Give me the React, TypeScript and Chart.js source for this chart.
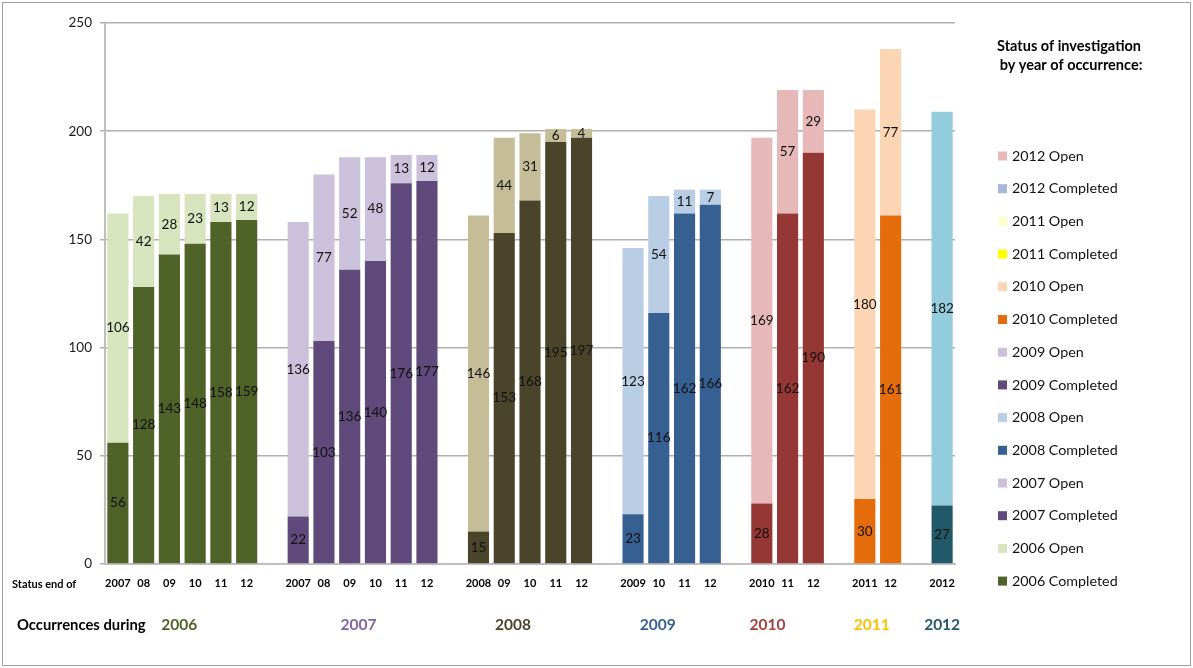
import { useEffect, useRef } from 'react';
import { Chart, registerables } from 'chart.js';

Chart.register(...registerables);

const FONT = 'Lato, "Liberation Sans", sans-serif';

// Occurrence years (groups)
const occurrenceYears = ['2006', '2007', '2008', '2009', '2010', '2011', '2012'];

// "Status end of" tick labels per group
const statusEnd2006 = ['2007', '08', '09', '10', '11', '12'];
const statusEnd2007 = ['2007', '08', '09', '10', '11', '12'];
const statusEnd2008 = ['2008', '09', '10', '11', '12'];
const statusEnd2009 = ['2009', '10', '11', '12'];
const statusEnd2010 = ['2010', '11', '12'];
const statusEnd2011 = ['2011', '12'];
const statusEnd2012 = ['2012'];

// Completed investigations
const completed2006 = [56, 128, 143, 148, 158, 159];
const completed2007 = [22, 103, 136, 140, 176, 177];
const completed2008 = [15, 153, 168, 195, 197];
const completed2009 = [23, 116, 162, 166];
const completed2010 = [28, 162, 190];
const completed2011 = [30, 161];
const completed2012 = [27];

// Open investigations
const open2006 = [106, 42, 28, 23, 13, 12];
const open2007 = [136, 77, 52, 48, 13, 12];
const open2008 = [146, 44, 31, 6, 4];
const open2009 = [123, 54, 11, 7];
const open2010 = [169, 57, 29];
const open2011 = [180, 77];
const open2012 = [182];

// Bar colours per group
const completedColors = ['#4F6228', '#604A7B', '#4A452A', '#376092', '#953735', '#E46C0A', '#215968'];
const openColors = ['#D7E4BD', '#CCC1DA', '#C4BD97', '#B9CDE5', '#E6B9B8', '#FCD5B5', '#93CDDD'];
const yearLabelColors = ['#4F6228', '#8064A2', '#4A452A', '#376092', '#A5403D', '#FFC000', '#215968'];

// Legend (as in the original workbook)
const legendLabels = [
  '2012 Open', '2012 Completed', '2011 Open', '2011 Completed', '2010 Open', '2010 Completed',
  '2009 Open', '2009 Completed', '2008 Open', '2008 Completed', '2007 Open', '2007 Completed',
  '2006 Open', '2006 Completed',
];
const legendColors = [
  '#E6B9B8', '#A7B9D8', '#FFFFCC', '#FFFF00', '#FCD5B5', '#E46C0A',
  '#CCC1DA', '#604A7B', '#B9CDE5', '#376092', '#CCC1DA', '#604A7B',
  '#D7E4BD', '#4F6228',
];

const yTicks = [0, 50, 100, 150, 200, 250];

const statusGroups = [statusEnd2006, statusEnd2007, statusEnd2008, statusEnd2009, statusEnd2010, statusEnd2011, statusEnd2012];
const completedGroups = [completed2006, completed2007, completed2008, completed2009, completed2010, completed2011, completed2012];
const openGroups = [open2006, open2007, open2008, open2009, open2010, open2011, open2012];

function buildData() {
  const labels: string[] = [];
  const completed: (number | null)[] = [];
  const open: (number | null)[] = [];
  const cCol: string[] = [];
  const oCol: string[] = [];
  const groupRanges: [number, number][] = [];
  statusGroups.forEach((st, g) => {
    const start = labels.length;
    st.forEach((s, i) => {
      labels.push(s);
      completed.push(completedGroups[g][i]);
      open.push(openGroups[g][i]);
      cCol.push(completedColors[g]);
      oCol.push(openColors[g]);
    });
    groupRanges.push([start, labels.length - 1]);
    if (g < statusGroups.length - 1) {
      labels.push('');
      completed.push(null);
      open.push(null);
      cCol.push('rgba(0,0,0,0)');
      oCol.push('rgba(0,0,0,0)');
    }
  });
  return { labels, completed, open, cCol, oCol, groupRanges };
}

export default function App() {
  const ref = useRef<HTMLCanvasElement | null>(null);

  useEffect(() => {
    if (!ref.current) return;
    const d = buildData();
    const yearShift = [-3, -4, -17, -14, -20, -6, 0];

    const labelPlugin = {
      id: 'segLabels',
      afterDatasetsDraw(chart: any) {
        const ctx = chart.ctx;
        ctx.save();
        ctx.font = `13.5px ${FONT}`;
        ctx.fillStyle = '#111';
        ctx.textAlign = 'center';
        ctx.textBaseline = 'middle';
        chart.data.datasets.forEach((ds: any, di: number) => {
          const meta = chart.getDatasetMeta(di);
          meta.data.forEach((el: any, i: number) => {
            const v = ds.data[i];
            if (v === null || v === undefined) return;
            ctx.fillText(String(v), el.x, (el.y + el.base) / 2);
          });
        });
        ctx.restore();
      },
    };

    const extrasPlugin = {
      id: 'extras',
      afterDraw(chart: any) {
        const ctx = chart.ctx;
        const area = chart.chartArea;
        const xs = chart.scales.x;
        ctx.save();
        // Status end of
        ctx.font = `bold 11px ${FONT}`;
        ctx.fillStyle = '#000';
        ctx.textAlign = 'left';
        ctx.textBaseline = 'middle';
        ctx.fillText('Status end of', 12, area.bottom + 20);
        // Occurrences during
        ctx.font = `bold 14.8px ${FONT}`;
        ctx.fillText('Occurrences during', 17, area.bottom + 61);
        ctx.font = `bold 15.5px ${FONT}`;
        ctx.textAlign = 'center';
        d.groupRanges.forEach(([a, b], g) => {
          const x = xs.getPixelForValue((a + b) / 2) + yearShift[g];
          ctx.fillStyle = yearLabelColors[g];
          ctx.fillText(occurrenceYears[g], x, area.bottom + 61);
        });
        // Legend title
        ctx.fillStyle = '#000';
        ctx.font = `bold 14.5px ${FONT}`;
        ctx.fillText('Status of investigation', 1069, 46);
        ctx.fillText('by year of occurrence:', 1071, 65);
        // Legend items
        ctx.font = `14.3px ${FONT}`;
        ctx.textAlign = 'left';
        legendLabels.forEach((lab, i) => {
          const y = 156 + i * 32.7;
          ctx.fillStyle = legendColors[i];
          ctx.fillRect(998, y - 4.5, 9, 9);
          ctx.fillStyle = '#111';
          ctx.fillText(lab, 1012, y);
        });
        ctx.restore();
      },
    };

    const chart = new Chart(ref.current, {
      type: 'bar',
      data: {
        labels: d.labels,
        datasets: [
          { label: 'Completed', data: d.completed, backgroundColor: d.cCol, borderWidth: 0 },
          { label: 'Open', data: d.open, backgroundColor: d.oCol, borderWidth: 0 },
        ],
      },
      options: {
        animation: false,
        responsive: false,
        devicePixelRatio: 1,
        layout: { padding: { left: 0, right: 238, top: 23, bottom: 0 } },
        datasets: { bar: { barPercentage: 0.82, categoryPercentage: 1.0 } },
        plugins: { legend: { display: false }, tooltip: { enabled: false } },
        scales: {
          x: {
            stacked: true,
            grid: { display: false, drawTicks: false },
            border: { display: true, color: '#bfbfbf', width: 2 },
            ticks: {
              autoSkip: false,
              maxRotation: 0,
              padding: 13,
              color: '#000',
              font: { family: FONT, size: 11, weight: 'bold' },
            },
            afterFit(scale: any) { scale.height = 104; },
          },
          y: {
            stacked: true,
            min: 0,
            max: 250,
            afterBuildTicks(scale: any) { scale.ticks = yTicks.map((v) => ({ value: v })); },
            grid: { color: '#b0b0b0', lineWidth: 1.5, tickLength: 5, drawTicks: true },
            border: { display: true, color: '#bfbfbf', width: 2 },
            ticks: { padding: 8, color: '#1a1a1a', font: { family: FONT, size: 13.5 } },
            afterFit(scale: any) { scale.width = 105; },
          },
        },
      },
      plugins: [labelPlugin, extrasPlugin],
    } as any);
    return () => chart.destroy();
  }, []);

  return (
    <div style={{ position: 'fixed', left: 0, top: 0, width: 1193, height: 668, background: '#fff' }}>
      <div style={{ position: 'absolute', left: 2, top: 2, width: 1187, height: 662, border: '1px solid #a0a0a0' }} />
      <canvas ref={ref} width={1193} height={668} style={{ position: 'absolute', left: 0, top: 0, display: 'block' }} />
    </div>
  );
}
